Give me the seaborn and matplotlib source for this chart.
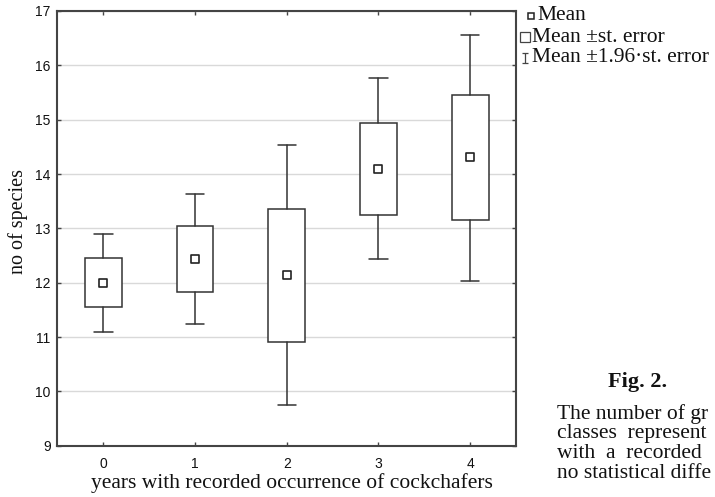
import matplotlib
matplotlib.use("Agg")
import matplotlib.pyplot as plt
from matplotlib.lines import Line2D
from matplotlib.path import Path
import seaborn as sns
import pandas as pd

# ---- data ----
years = [0, 1, 2, 3, 4]
mean_vals = [12.00, 12.44, 12.14, 14.10, 14.31]
se_low = [11.55, 11.82, 10.91, 13.24, 13.15]
se_high = [12.46, 13.04, 13.36, 14.94, 15.45]
ci_low = [11.10, 11.24, 9.74, 12.43, 12.04]
ci_high = [12.89, 13.64, 14.53, 15.76, 16.56]
y_ticks = [9, 10, 11, 12, 13, 14, 15, 16, 17]
legend_labels = ["Mean", "Mean \u00b1st. error", "Mean \u00b11.96\u00b7st. error"]
caption_title = "Fig. 2."
caption_lines = ["The number of gr", "classes  represent", "with  a  recorded", "no statistical diffe"]

sns.set_style("white")
plt.rcParams["font.family"] = ["Liberation Sans", "DejaVu Sans"]
serif = ["Liberation Serif", "DejaVu Serif"]

fig = plt.figure(figsize=(7.15, 4.97), dpi=100)
ax = fig.add_axes([0.0804, 0.1032, 0.6413, 0.8747])

edge = "#333333"
stats = []
for y, m, lo, hi, wl, wh in zip(years, mean_vals, se_low, se_high, ci_low, ci_high):
    stats.append(dict(med=m, q1=lo, q3=hi, whislo=wl, whishi=wh, fliers=[], label=str(y)))

ax.bxp(stats, positions=years, widths=0.4, showfliers=False, patch_artist=True,
       boxprops=dict(facecolor="white", edgecolor=edge, linewidth=1.1),
       whiskerprops=dict(color=edge, linewidth=1.1),
       capprops=dict(color=edge, linewidth=1.1),
       medianprops=dict(linewidth=0), capwidths=0.2, zorder=3)

df = pd.DataFrame({"year": years, "mean": mean_vals})
sns.scatterplot(data=df, x="year", y="mean", marker="s", s=30, facecolor="white",
                edgecolor="#222222", linewidth=1.2, ax=ax, zorder=5, legend=False)

ax.set_xlim(-0.5, 4.5)
ax.set_ylim(9, 17)
ax.set_yticks(y_ticks)
ax.set_xticks(years)
ax.set_xticklabels([str(y) for y in years])
ax.yaxis.grid(True, color="#d9d9d9", linewidth=1.0, zorder=0)
ax.set_axisbelow(True)
for s in ax.spines.values():
    s.set_visible(True)
    s.set_color("#444444")
    s.set_linewidth(1.5)
ax.tick_params(axis="both", direction="in", length=3, width=1, color="#444444",
               labelsize=10, labelcolor="#111111", top=True, right=True,
               bottom=True, left=True, labeltop=False, labelright=False)
ax.tick_params(axis="x", pad=8)
ax.tick_params(axis="y", pad=5)

ax.set_xlabel("years with recorded occurrence of cockchafers", family=serif,
              fontsize=15.5, color="#111111")
ax.xaxis.set_label_coords(0.512, -0.085)
ax.xaxis.label.set_va("center")
ax.set_ylabel("no of species", family=serif, fontsize=14.5, color="#111111")
ax.yaxis.set_label_coords(-0.085, 0.515)
ax.yaxis.label.set_va("center")

# legend (drawn in figure pixel coordinates)
W, H = 715.0, 497.0
ibeam = Path([(-0.5, 1), (0.5, 1), (0, 1), (0, -1), (-0.5, -1), (0.5, -1)],
             [Path.MOVETO, Path.LINETO, Path.MOVETO, Path.LINETO, Path.MOVETO, Path.LINETO])
leg_markers = [
    dict(x=531, marker="s", ms=4.0, mew=1.1, ec="#222222"),
    dict(x=524.5, marker="s", ms=6.5, mew=0.9, ec="#444444"),
    dict(x=524.5, marker=ibeam, ms=7.5, mew=0.9, ec="#444444"),
]
leg_text_x = [537, 532, 532]
leg_y = [16, 37, 58]
for spec, tx, ty, lab in zip(leg_markers, leg_text_x, leg_y, legend_labels):
    fig.add_artist(Line2D([spec["x"] / W], [1 - ty / H], transform=fig.transFigure,
                          linestyle="none", marker=spec["marker"], markersize=spec["ms"],
                          markerfacecolor="white" if spec["marker"] == "s" else "none",
                          markeredgecolor=spec["ec"], markeredgewidth=spec["mew"]))
    fig.text(tx / W, 1 - ty / H, lab, family=serif, fontsize=15.5, ha="left",
             va="center", color="#111111")

# caption
fig.text(637.5 / W, 1 - 382 / H, caption_title, family=serif, fontsize=16,
         fontweight="bold", ha="center", va="center", color="#111111")
for i, line in enumerate(caption_lines):
    fig.text(557 / W, 1 - (414 + i * 19.8) / H, line, family=serif, fontsize=15.5,
             ha="left", va="center", color="#111111")

fig.savefig("out.png", dpi=100)
